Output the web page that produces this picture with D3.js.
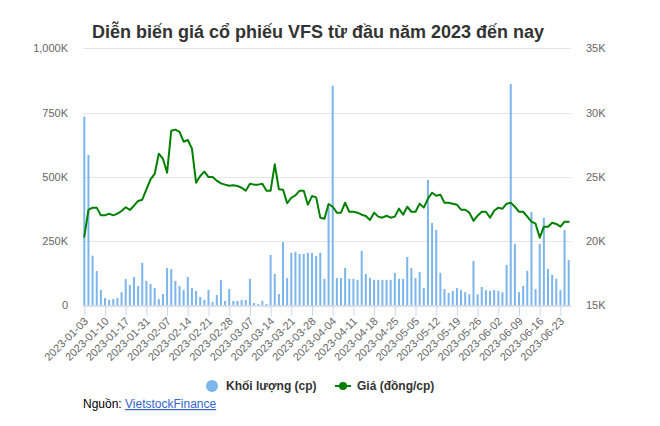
<!DOCTYPE html>
<html>
<head>
<meta charset="utf-8">
<script src="https://cdn.jsdelivr.net/npm/d3@7"></script>
<style>
  html, body { margin: 0; padding: 0; background: #fff; }
  svg { display: block; font-family: "Liberation Sans", Arial, sans-serif; }
</style>
</head>
<body>
<svg id="chart" width="660" height="426"></svg>
<script>
// ---- Data ----
const dates = [
 "2023-01-03","2023-01-04","2023-01-05","2023-01-06","2023-01-09","2023-01-10","2023-01-11","2023-01-12","2023-01-13","2023-01-16",
 "2023-01-17","2023-01-18","2023-01-19","2023-01-27","2023-01-30","2023-01-31","2023-02-01","2023-02-02","2023-02-03","2023-02-06",
 "2023-02-07","2023-02-08","2023-02-09","2023-02-10","2023-02-13","2023-02-14","2023-02-15","2023-02-16","2023-02-17","2023-02-20",
 "2023-02-21","2023-02-22","2023-02-23","2023-02-24","2023-02-27","2023-02-28","2023-03-01","2023-03-02","2023-03-03","2023-03-06",
 "2023-03-07","2023-03-08","2023-03-09","2023-03-10","2023-03-13","2023-03-14","2023-03-15","2023-03-16","2023-03-17","2023-03-20",
 "2023-03-21","2023-03-22","2023-03-23","2023-03-24","2023-03-27","2023-03-28","2023-03-29","2023-03-30","2023-03-31","2023-04-03",
 "2023-04-04","2023-04-05","2023-04-06","2023-04-07","2023-04-10","2023-04-11","2023-04-12","2023-04-13","2023-04-14","2023-04-17",
 "2023-04-18","2023-04-19","2023-04-20","2023-04-21","2023-04-24","2023-04-25","2023-04-26","2023-04-27","2023-04-28","2023-05-04",
 "2023-05-05","2023-05-08","2023-05-09","2023-05-10","2023-05-11","2023-05-12","2023-05-15","2023-05-16","2023-05-17","2023-05-18",
 "2023-05-19","2023-05-22","2023-05-23","2023-05-24","2023-05-25","2023-05-26","2023-05-29","2023-05-30","2023-05-31","2023-06-01",
 "2023-06-02","2023-06-05","2023-06-06","2023-06-07","2023-06-08","2023-06-09","2023-06-12","2023-06-13","2023-06-14","2023-06-15",
 "2023-06-16","2023-06-19","2023-06-20","2023-06-21","2023-06-22","2023-06-23","2023-06-26","2023-06-27"
];
// Khối lượng (thousand shares)
const volumeK = [
 734,585,193,133,60,28,21,24,28,51,
 102,79,110,75,165,95,83,67,24,44,
 145,141,95,75,60,110,67,56,32,21,
 60,13,40,98,17,63,17,17,21,21,
 103,9,5,17,5,196,122,44,246,106,
 204,208,200,200,204,204,192,204,103,382,
 854,106,106,145,103,103,99,212,122,106,
 99,99,99,99,99,126,103,103,188,145,
 106,130,67,488,320,293,126,63,48,56,
 67,59,51,43,172,43,71,59,56,59,
 56,51,157,861,239,51,75,134,363,63,
 239,340,141,118,103,59,293,176
];
// Giá (thousand VND)
const priceK = [
 20.34,22.42,22.6,22.6,22.0,22.0,22.13,22.0,22.13,22.34,
 22.63,22.42,22.75,23.12,23.22,24.03,24.8,25.22,26.8,26.39,
 25.32,28.59,28.67,28.49,27.73,27.86,27.19,24.54,25.06,25.4,
 24.98,24.98,24.7,24.49,24.39,24.31,24.35,24.28,24.15,23.92,
 24.46,24.39,24.39,24.46,23.92,23.92,25.97,24.03,24.0,22.94,
 23.37,23.56,23.92,23.92,22.83,23.5,23.4,21.82,21.74,22.88,
 22.67,22.21,22.21,22.98,22.28,22.28,22.21,22.05,21.95,21.64,
 22.21,21.9,21.82,21.97,21.82,21.9,22.52,22.05,22.67,22.28,
 22.28,22.91,22.6,23.3,23.76,23.53,23.61,22.98,22.98,22.91,
 22.83,22.44,22.44,22.21,21.58,21.97,22.28,22.28,21.82,22.36,
 22.6,22.52,22.91,22.98,22.67,22.28,22.28,21.9,21.51,21.35,
 20.26,21.12,21.12,21.43,21.33,21.12,21.51,21.51
];
const tickDates = [
 "2023-01-03","2023-01-10","2023-01-17","2023-01-31","2023-02-07","2023-02-14","2023-02-21","2023-02-28",
 "2023-03-07","2023-03-14","2023-03-21","2023-03-28","2023-04-04","2023-04-11","2023-04-18","2023-04-25",
 "2023-05-05","2023-05-12","2023-05-19","2023-05-26","2023-06-02","2023-06-09","2023-06-16","2023-06-23"
];
const volTicks = [0, 250, 500, 750, 1000];
const volTickLabels = ["0", "250K", "500K", "750K", "1,000K"];
const priceTicks = [15, 20, 25, 30, 35];
const priceTickLabels = ["15K", "20K", "25K", "30K", "35K"];
const seriesNames = ["Khối lượng (cp)", "Giá (đồng/cp)"];
const titleText = "Diễn biến giá cổ phiếu VFS từ đầu năm 2023 đến nay";

// ---- Layout ----
const svg = d3.select("#chart");
const plotL = 83, plotR = 571, plotT = 48.3, plotB = 305.3;
const x = d3.scalePoint().domain(dates).range([84.3, 568.7]);
const yV = d3.scaleLinear().domain([0, 1000]).range([plotB, plotT]);
const yP = d3.scaleLinear().domain([15, 35]).range([plotB, plotT]);
const labelColor = "#666666";

// Title
svg.append("text").attr("x", 318).attr("y", 38).attr("text-anchor", "middle")
  .attr("font-size", 18).attr("font-weight", "bold").attr("fill", "#333333").text(titleText);

// Grid lines
svg.append("g").selectAll("line").data(volTicks).join("line")
  .attr("x1", plotL).attr("x2", plotR)
  .attr("y1", d => Math.round(yV(d)) + 0.5).attr("y2", d => Math.round(yV(d)) + 0.5)
  .attr("stroke", "#e6e6e6").attr("stroke-width", 1);

// Left axis labels
svg.append("g").selectAll("text").data(volTicks).join("text")
  .attr("x", 68).attr("y", d => yV(d) + 4).attr("text-anchor", "end")
  .attr("font-size", 11).attr("fill", labelColor)
  .text((d, i) => volTickLabels[i]);

// Right axis labels
svg.append("g").selectAll("text").data(priceTicks).join("text")
  .attr("x", 586).attr("y", d => yP(d) + 4).attr("text-anchor", "start")
  .attr("font-size", 11).attr("fill", labelColor)
  .text((d, i) => priceTickLabels[i]);

// Bars
const barW = 2;
svg.append("g").selectAll("rect").data(volumeK).join("rect")
  .attr("x", (d, i) => x(dates[i]) - barW / 2)
  .attr("y", d => yV(d))
  .attr("width", barW)
  .attr("height", d => plotB - yV(d))
  .attr("fill", "#7cb5ec");

// X axis
const xAxis = d3.axisBottom(x).tickValues(tickDates).tickSize(10).tickSizeOuter(0);
const gx = svg.append("g").attr("transform", `translate(0,${plotB + 0.5})`).call(xAxis);
gx.select(".domain").attr("stroke", "#ccd6eb").attr("d", `M${plotL},0.5H${plotR}`);
gx.selectAll(".tick line").attr("stroke", "#ccd6eb");
gx.selectAll(".tick text")
  .attr("font-size", 11).attr("fill", labelColor)
  .attr("font-family", "Liberation Sans, Arial, sans-serif")
  .attr("text-anchor", "end")
  .attr("dy", null).attr("y", null)
  .attr("transform", "translate(4,16) rotate(-45)");

// Price line
const line = d3.line().x((d, i) => x(dates[i])).y(d => yP(d));
svg.append("path").datum(priceK).attr("d", line)
  .attr("fill", "none").attr("stroke", "#008000").attr("stroke-width", 2)
  .attr("stroke-linejoin", "round").attr("stroke-linecap", "round");

// Legend
const lg = svg.append("g");
lg.append("circle").attr("cx", 212).attr("cy", 386).attr("r", 6).attr("fill", "#7cb5ec");
lg.append("text").attr("x", 226).attr("y", 390).attr("font-size", 12).attr("font-weight", "bold")
  .attr("fill", "#333333").text(seriesNames[0]);
lg.append("line").attr("x1", 335).attr("x2", 351).attr("y1", 386).attr("y2", 386)
  .attr("stroke", "#008000").attr("stroke-width", 2);
lg.append("circle").attr("cx", 343).attr("cy", 386).attr("r", 4).attr("fill", "#008000");
lg.append("text").attr("x", 357).attr("y", 390).attr("font-size", 12).attr("font-weight", "bold")
  .attr("fill", "#333333").text(seriesNames[1]);

// Source
const src = svg.append("text").attr("x", 83).attr("y", 408).attr("font-size", 12).attr("fill", "#000");
src.append("tspan").text("Nguồn: ");
src.append("tspan").attr("fill", "#3366cc").attr("text-decoration", "underline").text("VietstockFinance");
</script>
</body>
</html>
